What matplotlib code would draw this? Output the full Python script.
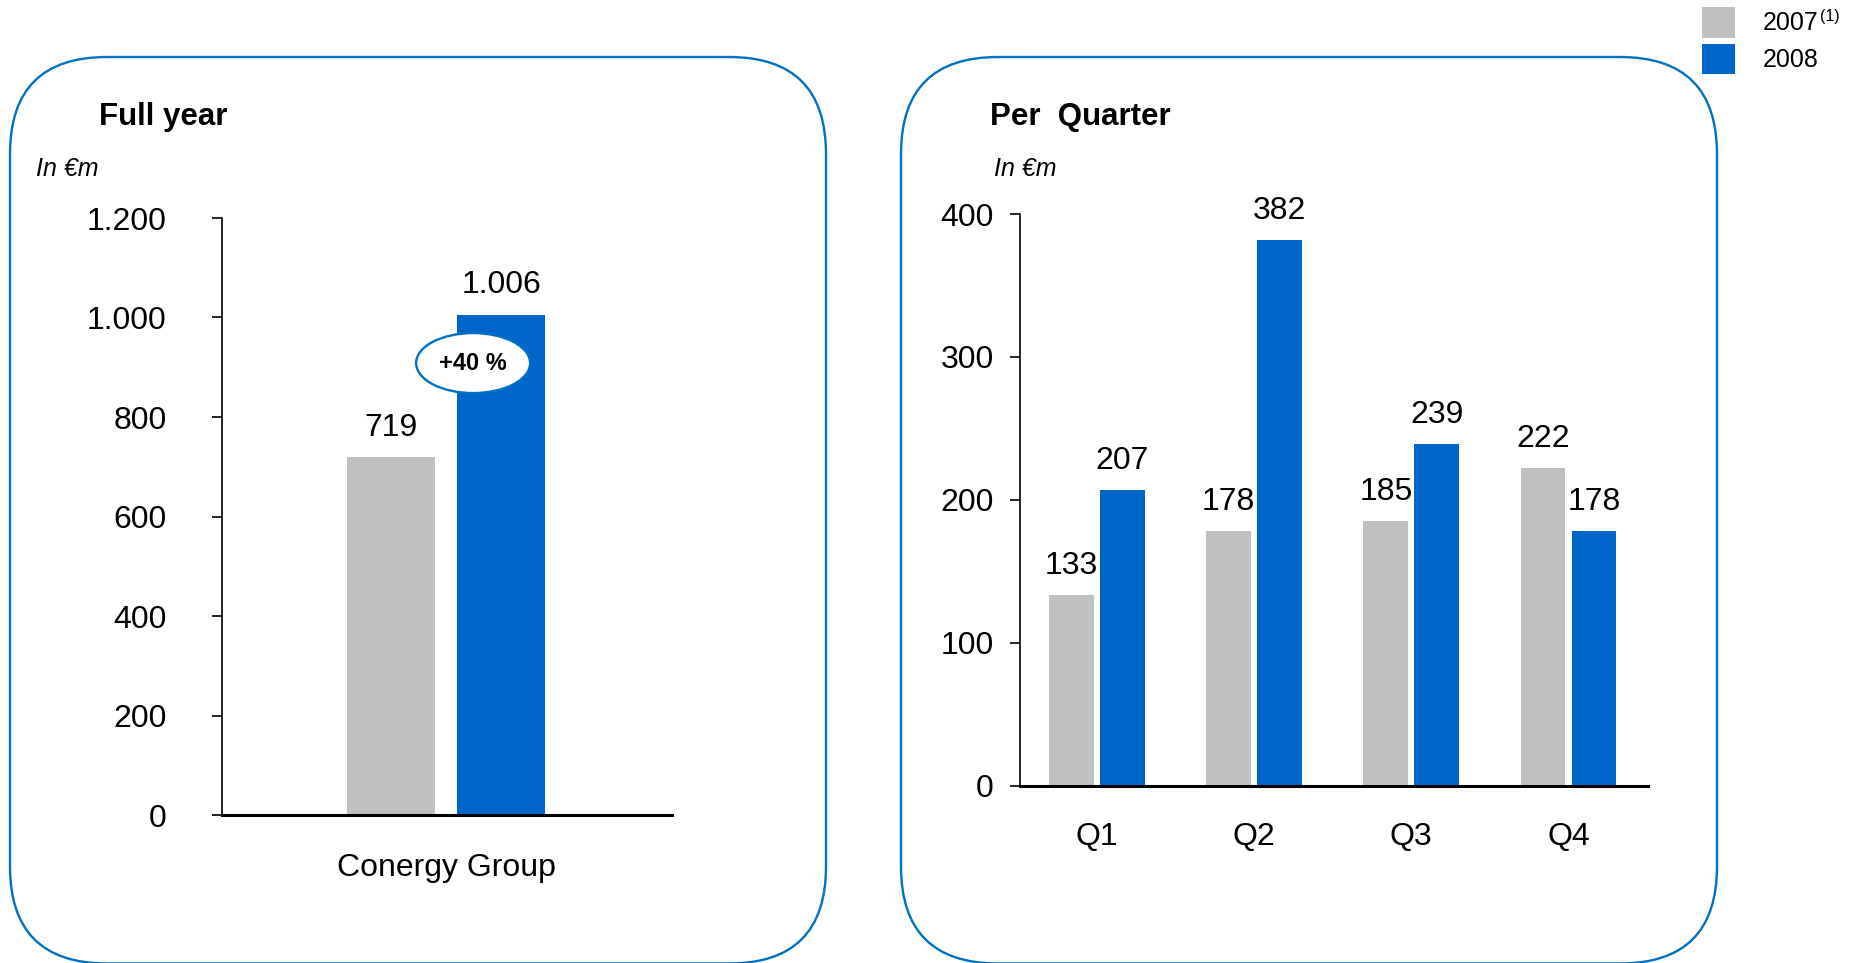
import matplotlib.pyplot as plt
from matplotlib.patches import FancyBboxPatch, Ellipse, Rectangle

plt.rcParams['font.family'] = ['Liberation Sans', 'DejaVu Sans']

# Full year values (EUR m)
fy_groups = ['Conergy Group']
fy_2007 = [719]
fy_2008 = [1006]
fy_yticks = [0, 200, 400, 600, 800, 1000, 1200]
growth_label = '+40 %'

# Quarterly values (EUR m)
quarters = ['Q1', 'Q2', 'Q3', 'Q4']
q_2007 = [133, 178, 185, 222]
q_2008 = [207, 382, 239, 178]
q_yticks = [0, 100, 200, 300, 400]

series_names = ['2007', '2008']

GREY = '#C0C0C0'
BLUE = '#0066CC'
FRAME = '#0070C0'

W, H = 1866, 963
fig = plt.figure(figsize=(W / 100, H / 100), dpi=100)


def fmt(v):
    return f"{v:,}".replace(',', '.')


# background layer in pixel units for frames, headings and legend
bg = fig.add_axes([0, 0, 1, 1], zorder=0)
bg.set_xlim(0, W)
bg.set_ylim(H, 0)
bg.axis('off')

for x0, x1 in [(10, 826), (901, 1717)]:
    bg.add_patch(FancyBboxPatch((x0, 57), x1 - x0, 906.5,
                                boxstyle='round,pad=0,rounding_size=97',
                                fc='white', ec=FRAME, lw=1.7))

bg.text(99, 117, 'Full year', fontsize=22.5, fontweight='bold', va='center')
bg.text(36, 169, 'In €m', fontsize=18, fontstyle='italic', va='center')
bg.text(990, 117, 'Per  Quarter', fontsize=22.5, fontweight='bold', va='center')
bg.text(994, 169, 'In €m', fontsize=18, fontstyle='italic', va='center')

# legend
for (y0, y1), c, name in zip([(7, 38), (44, 74)], [GREY, BLUE], series_names):
    bg.add_patch(Rectangle((1702, y0), 33, y1 - y0, fc=c, ec='none'))
    bg.text(1763, (y0 + y1) / 2 + 1, name, fontsize=18, va='center')
bg.text(1820, 17, '(1)', fontsize=11.5, va='center')


def style_axis(ax, pad):
    for s in ['top', 'right']:
        ax.spines[s].set_visible(False)
    ax.spines['left'].set_linewidth(1.2)
    ax.spines['bottom'].set_linewidth(2.2)
    ax.set_facecolor('none')
    ax.tick_params(axis='y', length=7, width=1.2, pad=pad, labelsize=23)
    ax.tick_params(axis='x', length=0, labelsize=23)


# full year panel
ax1 = fig.add_axes([222 / W, 1 - 815 / H, 450 / W, 597 / H], zorder=1)
bw1 = 0.4
xs = range(len(fy_groups))
b07 = ax1.bar([x - 0.25 for x in xs], fy_2007, bw1, color=GREY)
b08 = ax1.bar([x + 0.25 for x in xs], fy_2008, bw1, color=BLUE)
ax1.set_xlim(-1.02, 1.025)
ax1.set_ylim(0, 1200)
ax1.set_yticks(fy_yticks)
ax1.set_yticklabels([fmt(v) for v in fy_yticks])
ax1.set_xticks(list(xs))
ax1.set_xticklabels(fy_groups)
style_axis(ax1, 33)
ax1.tick_params(axis='x', pad=27)
for bars in (b07, b08):
    for r in bars:
        v = int(r.get_height())
        ax1.annotate(fmt(v), (r.get_x() + r.get_width() / 2, v),
                     xytext=(0, 21), textcoords='offset points',
                     ha='center', va='center', fontsize=23)
ax1.add_patch(Ellipse((0.558, 0.757), 114 / 450, 60 / 597,
                      transform=ax1.transAxes, fc='white', ec=FRAME,
                      lw=1.7, zorder=3))
ax1.text(0.558, 0.757, growth_label, transform=ax1.transAxes, ha='center',
         va='center', fontsize=17, fontweight='bold', zorder=4)

# quarterly panel
ax2 = fig.add_axes([1020 / W, 1 - 785.5 / H, 628 / W, 571.5 / H], zorder=1)
bw2 = 0.285
xq = range(len(quarters))
c07 = ax2.bar([x - 0.162 for x in xq], q_2007, bw2, color=GREY)
c08 = ax2.bar([x + 0.162 for x in xq], q_2008, bw2, color=BLUE)
ax2.set_xlim(-0.487, 3.505)
ax2.set_ylim(0, 400)
ax2.set_yticks(q_yticks)
ax2.set_xticks(list(xq))
ax2.set_xticklabels(quarters)
style_axis(ax2, 12)
ax2.tick_params(axis='x', pad=26)
for bars in (c07, c08):
    for r in bars:
        v = int(r.get_height())
        ax2.annotate(fmt(v), (r.get_x() + r.get_width() / 2, v),
                     xytext=(0, 21), textcoords='offset points',
                     ha='center', va='center', fontsize=23)

fig.savefig('out.png', dpi=100)
